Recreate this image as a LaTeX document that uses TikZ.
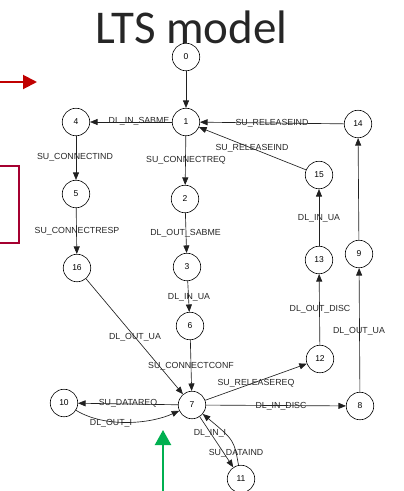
\documentclass[tikz,border=0pt]{standalone}
\usepackage{fontspec}
\setmainfont{Liberation Sans}
\newfontfamily\titlefont{Carlito}
\usetikzlibrary{arrows.meta}
\definecolor{edgecol}{HTML}{202020}
\definecolor{redarrow}{HTML}{C00000}
\definecolor{redbox}{HTML}{A50030}
\definecolor{greenarrow}{HTML}{00B050}
\definecolor{titlecol}{HTML}{262626}
\begin{document}
\begin{tikzpicture}[x=1pt,y=-1pt,
  state/.style={circle,draw=black,line width=0.6pt,minimum size=27.5pt,inner sep=0pt,font=\fontsize{8.5}{9}\selectfont},
  tr/.style={draw=edgecol,line width=0.65pt,-{Triangle[length=7.5pt,width=6pt]}},
  lbl/.style={font=\fontsize{8.8}{9}\selectfont,inner sep=0pt,text=black!85}]
\useasboundingbox (0,0) rectangle (404,491);
\node[titlecol,font=\titlefont\fontsize{47}{50}\selectfont,anchor=base,inner sep=0pt] (title) at (191.5,43) {LTS model};
% states
\node[state] (s0) at (186,57) {0};
\node[state] (s1) at (186,122) {1};
\node[state] (s4) at (76,122) {4};
\node[state] (s14) at (358,124) {14};
\node[state] (s5) at (76,194) {5};
\node[state] (s2) at (185,199) {2};
\node[state] (s15) at (319,175) {15};
\node[state] (s16) at (77,268) {16};
\node[state] (s3) at (187,267) {3};
\node[state] (s13) at (319,260) {13};
\node[state] (s9) at (359,254) {9};
\node[state] (s6) at (190,326) {6};
\node[state] (s12) at (320,359) {12};
\node[state] (s10) at (64,403) {10};
\node[state] (s7) at (192,405) {7};
\node[state] (s8) at (360,406) {8};
\node[state] (s11) at (241,479) {11};
% transitions
\draw[tr] (s0) -- (s1);
\draw[tr] (s1) -- (s4) node[lbl] at (139,121) {DL\_IN\_SABME};
\draw[tr] (s14) -- (s1) node[lbl] at (272,123) {SU\_RELEASEIND};
\draw[tr] (s15) -- (s1) node[lbl] at (252,148) {SU\_RELEASEIND};
\draw[tr] (s4) -- (s5) node[lbl] at (75,157) {SU\_CONNECTIND};
\draw[tr] (s1) -- (s2) node[lbl] at (186,160) {SU\_CONNECTREQ};
\draw[tr] (s5) -- (s16) node[lbl] at (77,231) {SU\_CONNECTRESP};
\draw[tr] (s2) -- (s3) node[lbl] at (185.5,233) {DL\_OUT\_SABME};
\draw[tr] (s13) -- (s15) node[lbl] at (319,218) {DL\_IN\_UA};
\draw[tr] (s3) -- (s6) node[lbl] at (189,297) {DL\_IN\_UA};
\draw[tr] (s12) -- (s13) node[lbl] at (320,309) {DL\_OUT\_DISC};
\draw[tr] (s8) -- (s9) node[lbl] at (359,331) {DL\_OUT\_UA};
\draw[tr] (s9) -- (s14);
\draw[tr] (s16) -- (s7) node[lbl] at (135,337) {DL\_OUT\_UA};
\draw[tr] (s6) -- (s7) node[lbl] at (191,366) {SU\_CONNECTCONF};
\draw[tr] (s7) -- (s12) node[lbl] at (256,383) {SU\_RELEASEREQ};
\draw[tr] (s7) -- (s10) node[lbl] at (128,403) {SU\_DATAREQ};
\draw[tr] (s7) -- (s8) node[lbl] at (281,406) {DL\_IN\_DISC};
\draw[tr] (s10) .. controls (105,428) and (150,424) .. (s7) node[lbl] at (111,423) {DL\_OUT\_I};
\draw[tr] (s7) -- (s11) node[lbl] at (210,433) {DL\_IN\_I};
\draw[tr] (s11) .. controls (234,440) .. (s7) node[lbl] at (236,453) {SU\_DATAIND};
% slide decorations
\coordinate (ra) at (0,82);
\coordinate (rb) at (37,82);
\draw[redarrow,line width=2pt,-{Triangle[length=14pt,width=14pt]}] (ra) -- (rb);
\draw[redbox,line width=1.5pt] (-5,166) -- (19,166) -- (19,243) -- (-5,243);
\coordinate (ga) at (163,492);
\coordinate (gb) at (163,430);
\draw[greenarrow,line width=2.2pt,-{Triangle[length=15pt,width=16pt]}] (ga) -- (gb);
\end{tikzpicture}
\end{document}
